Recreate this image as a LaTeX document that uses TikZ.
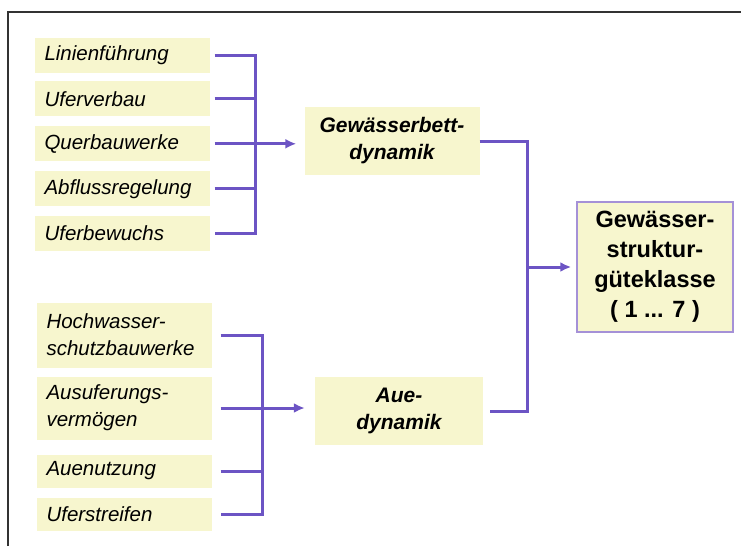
\documentclass[tikz,border=0pt]{standalone}
\usepackage{fontspec}
\setmainfont{Liberation Sans}
\usetikzlibrary{arrows.meta,positioning,calc}
\definecolor{paleyellow}{RGB}{247,246,206}
\definecolor{linkviolet}{RGB}{108,84,196}
\definecolor{frameviolet}{RGB}{165,145,215}

\tikzset{
  factor/.style={fill=paleyellow,minimum width=175pt,text width=155pt,align=left,inner sep=0pt,
    font=\fontsize{20.5}{27}\selectfont\itshape},
  dynbox/.style={fill=paleyellow,minimum height=68pt,align=center,inner sep=0pt,
    font=\fontsize{21}{27}\selectfont\bfseries\itshape},
  link/.style={draw=linkviolet,line width=3pt},
}

\begin{document}
\begin{tikzpicture}[x=1pt,y=-1pt,>={Latex[length=11pt,width=10pt]}]
    \useasboundingbox (0,0) rectangle (741,546);
    \draw[line width=1.5pt,black!80] (8,546) -- (8,12) -- (741,12);

    % Gewaesserbettdynamik
    \node[factor,minimum height=35pt] (f1) at (122,55) {Linienführung};
    \node[factor,minimum height=35pt,below=8.5pt of f1] (f2) {Uferverbau};
    \node[factor,minimum height=35pt,below=9.5pt of f2] (f3) {Querbauwerke};
    \node[factor,minimum height=35pt,below=9.5pt of f3] (f4) {Abflussregelung};
    \node[factor,minimum height=35pt,below=9.5pt of f4] (f5) {Uferbewuchs};
    \node[dynbox,minimum width=175pt] (gb) at (392,141) {Gewässerbett-\\dynamik};

    % Auedynamik
    \node[factor,minimum height=65pt] (a1) at (124,335) {Hochwasser-\\schutzbauwerke};
    \node[factor,minimum height=63pt] (a2) at (124,408) {Ausuferungs-\\vermögen};
    \node[factor,minimum height=33pt] (a3) at (124,471) {Auenutzung};
    \node[factor,minimum height=33pt] (a4) at (124,514) {Uferstreifen};
    \node[dynbox,minimum width=168pt] (ad) at (399,411) {Aue-\\dynamik};

    \node[fill=paleyellow,draw=frameviolet,line width=1.5pt,minimum width=156pt,minimum height=130pt,
      align=center,inner sep=0pt,font=\fontsize{23.5}{30}\selectfont\bfseries] (out) at (655,267)
      {Gewässer-\\struktur-\\güteklasse\\( 1 ... 7 )};

    \coordinate (bu) at (255,0);
    \coordinate (ba) at (262,0);
    \coordinate (br) at (527,0);

    \draw[link] ([xshift=5pt]f1.east) -| (bu |- f5.east) -- ([xshift=5pt]f5.east);
    \foreach \f in {f2,f3,f4}
      \draw[link] ([xshift=5pt]\f.east) -- (bu |- \f.east);
    \draw[link,->,shorten >=8pt] (bu |- f3.east) -- (gb.west |- f3.east);

    \draw[link] ([xshift=9pt]a1.east) -| (ba |- a4.east) -- ([xshift=9pt]a4.east);
    \foreach \a in {a2,a3}
      \draw[link] ([xshift=9pt]\a.east) -- (ba |- \a.east);
    \draw[link,->,shorten >=10pt] (ba |- a2.east) -- (ad.west |- a2.east);

    \draw[link] (gb.east) -| (br |- ad.east) -- ([xshift=7pt]ad.east);
    \draw[link,->,shorten >=5pt] (br |- out.west) -- (out.west);
  \end{tikzpicture}
\end{document}
